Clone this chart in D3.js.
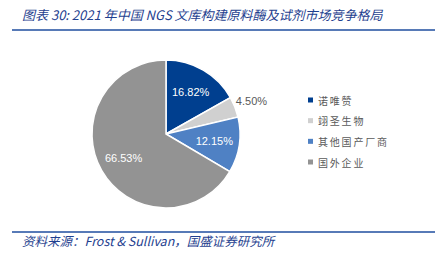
<!DOCTYPE html>
<html>
<head>
<meta charset="utf-8">
<script src="https://cdn.jsdelivr.net/npm/d3@7"></script>
<style>
  body { margin: 0; background: #fff; }
  text { font-family: "Noto Sans CJK SC", "Liberation Sans", sans-serif; }
</style>
</head>
<body>
<div id="vis"></div>
<script>
'use strict';

// chart data
const categories = ['诺唯赞', '翊圣生物', '其他国产厂商', '国外企业'];
const shares = [16.82, 4.50, 12.15, 66.53];
const colors = ['#003f8f', '#d0d0d0', '#4f81c4', '#939393'];

const width = 444;
const height = 267;
const center = { x: 166, y: 134 };
const radius = 74;

const svg = d3.select('#vis').append('svg')
  .attr('width', width)
  .attr('height', height);

// title and rules
svg.append('text')
  .attr('x', 22).attr('y', 20)
  .attr('fill', '#1f3f8f')
  .attr('font-size', 13)
  .attr('font-style', 'italic')
  .text('图表 30:  2021 年中国 NGS 文库构建原料酶及试剂市场竞争格局');

svg.append('line')
  .attr('x1', 12).attr('x2', 435).attr('y1', 30).attr('y2', 30)
  .attr('stroke', '#1f4e9f').attr('stroke-width', 1.5);

svg.append('line')
  .attr('x1', 12).attr('x2', 435).attr('y1', 232).attr('y2', 232)
  .attr('stroke', '#1f4e9f').attr('stroke-width', 1.5);

svg.append('text')
  .attr('x', 22).attr('y', 246)
  .attr('fill', '#1f3f8f')
  .attr('font-size', 12.5)
  .attr('font-style', 'italic')
  .text('资料来源：Frost & Sullivan，国盛证券研究所');

// pie
const pie = d3.pie().sort(null).value(d => d);
const arcs = pie(shares);
const arc = d3.arc().innerRadius(0).outerRadius(radius);

const g = svg.append('g')
  .attr('transform', `translate(${center.x},${center.y})`);

g.selectAll('path')
  .data(arcs)
  .join('path')
  .attr('d', arc)
  .attr('fill', (d, i) => colors[i])
  .attr('stroke', '#fff')
  .attr('stroke-width', 1.5);

// labels: small slice goes outside in gray
const inner = d3.arc().innerRadius(radius * 0.66).outerRadius(radius * 0.66);
const outer = d3.arc().innerRadius(radius * 1.24).outerRadius(radius * 1.24);

g.selectAll('text.lbl')
  .data(arcs)
  .join('text')
  .attr('class', 'lbl')
  .attr('transform', (d, i) => `translate(${(i === 1 ? outer : inner).centroid(d)})`)
  .attr('text-anchor', 'middle')
  .attr('dominant-baseline', 'central')
  .style('font-family', '"Liberation Sans", Arial, sans-serif')
  .attr('font-size', 11)
  .attr('fill', (d, i) => i === 1 ? '#595959' : '#fff')
  .text(d => d.data.toFixed(2) + '%');

// legend
const legend = svg.append('g');
const rowY = d3.scalePoint().domain(categories).range([100, 162]);

legend.selectAll('rect')
  .data(categories)
  .join('rect')
  .attr('x', 308)
  .attr('y', d => rowY(d) - 2.5)
  .attr('width', 5).attr('height', 5)
  .attr('fill', (d, i) => colors[i]);

legend.selectAll('text')
  .data(categories)
  .join('text')
  .attr('x', 318)
  .attr('y', d => rowY(d))
  .attr('dominant-baseline', 'central')
  .attr('font-size', 10)
  .attr('letter-spacing', 1.8)
  .attr('fill', '#595959')
  .text(d => d);
</script>
</body>
</html>
